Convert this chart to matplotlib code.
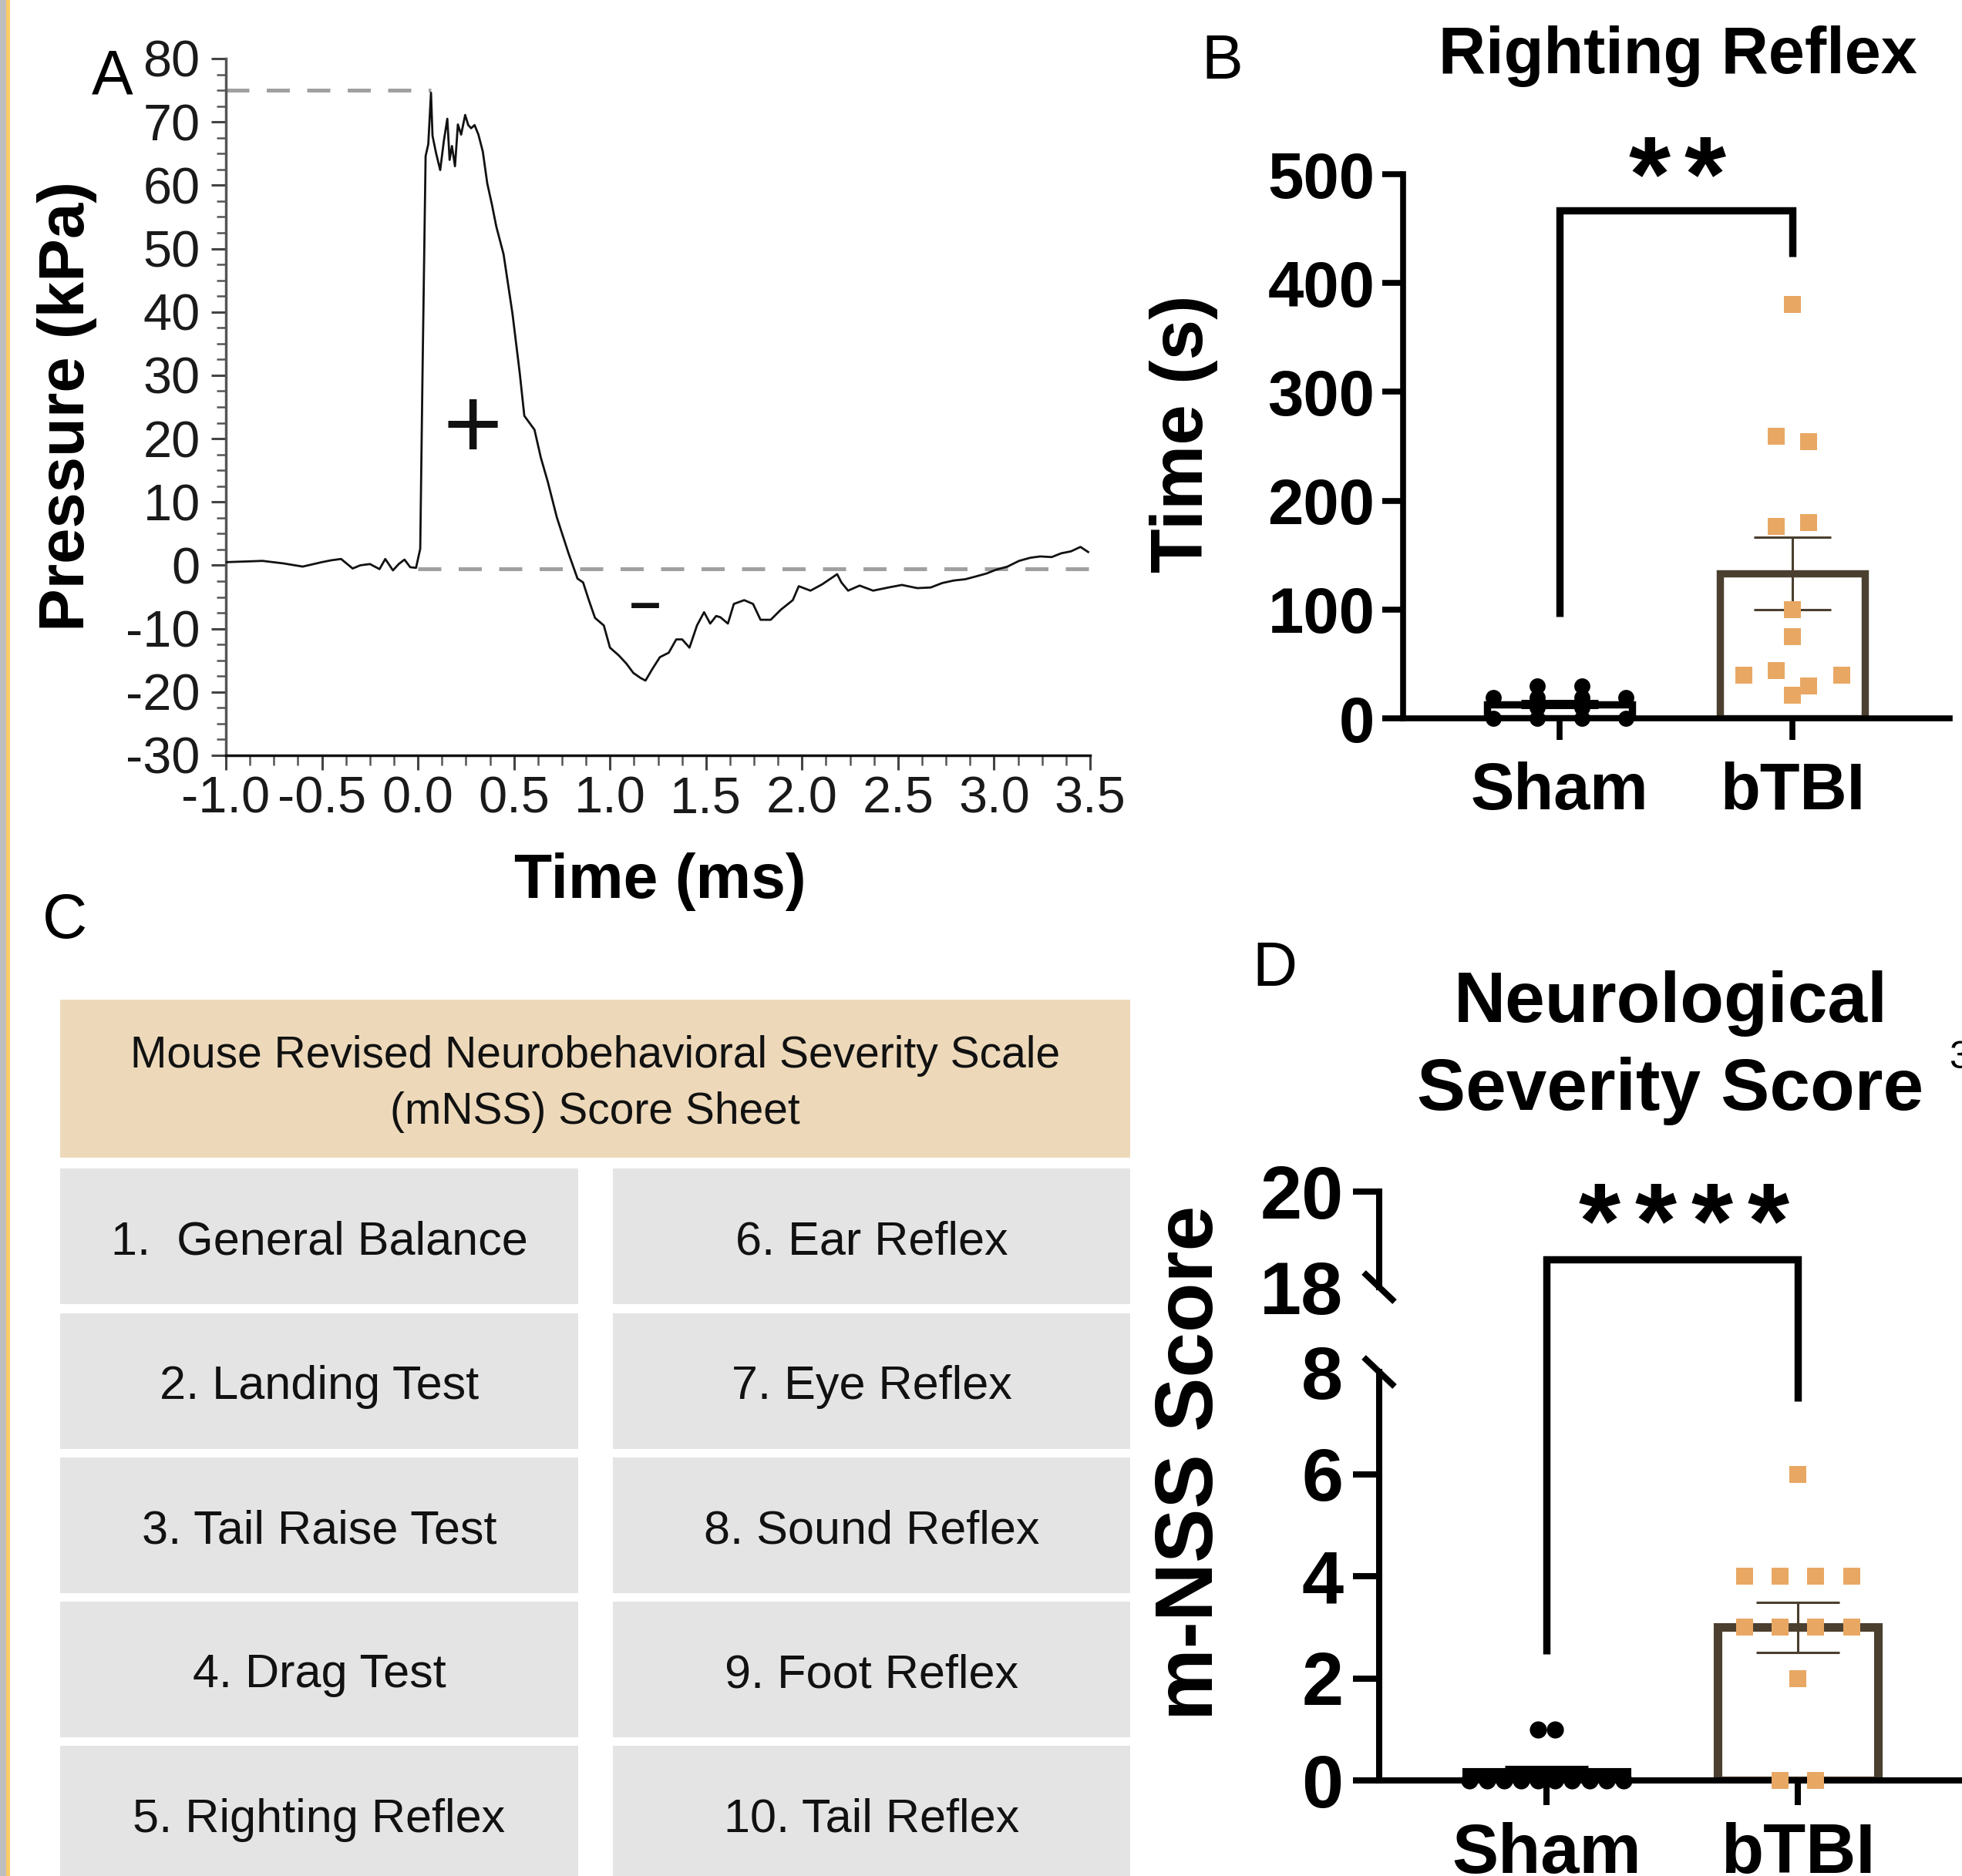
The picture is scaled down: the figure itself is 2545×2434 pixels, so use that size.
import matplotlib
matplotlib.use("Agg")
import matplotlib.pyplot as plt
import numpy as np
from matplotlib.patches import Rectangle
from matplotlib.lines import Line2D
from matplotlib.transforms import IdentityTransform
from matplotlib.ticker import AutoMinorLocator

plt.rcParams['axes.unicode_minus'] = False
plt.rcParams['font.family'] = ['Liberation Sans', 'DejaVu Sans']

# ---------------- data ----------------
time_ms = [-1.00, -0.90, -0.81, -0.70, -0.60, -0.50, -0.45, -0.40, -0.34, -0.30,
           -0.25, -0.20, -0.17, -0.13, -0.10, -0.07, -0.04, -0.01,
           0.012, 0.024, 0.040, 0.054, 0.068, 0.076, 0.095, 0.116, 0.135, 0.153,
           0.165, 0.177, 0.193, 0.208, 0.225, 0.246, 0.262, 0.277, 0.295, 0.315,
           0.338, 0.361, 0.385, 0.408, 0.446, 0.492, 0.530, 0.554, 0.607, 0.640,
           0.677, 0.723, 0.783, 0.831, 0.860, 0.890, 0.922, 0.968, 1.000, 1.045,
           1.085, 1.122, 1.160, 1.185, 1.220, 1.260, 1.306, 1.345, 1.376, 1.414,
           1.453, 1.490, 1.522, 1.553, 1.575, 1.614, 1.645, 1.699, 1.745, 1.784,
           1.837, 1.890, 1.952, 1.983, 2.044, 2.105, 2.183, 2.205, 2.240, 2.300,
           2.370, 2.450, 2.520, 2.600, 2.670, 2.730, 2.790, 2.850, 2.900, 2.960,
           3.010, 3.070, 3.130, 3.190, 3.240, 3.300, 3.350, 3.400, 3.450, 3.490]
pressure_kpa = [0.5, 0.6, 0.7, 0.3, -0.2, 0.5, 0.8, 1.0, -0.5, 0.0,
                0.2, -0.6, 1.0, -0.8, 0.2, 0.9, -0.3, -0.4,
                2.6, 30.5, 64.6, 66.5, 74.6, 67.8, 65.0, 62.4, 67.0, 70.5,
                64.0, 66.2, 63.0, 69.6, 68.0, 71.1, 69.5, 69.0, 69.5, 68.0,
                65.3, 60.3, 57.0, 53.5, 49.1, 39.8, 30.4, 23.6, 21.4, 17.0,
                13.1, 7.6, 2.0, -2.1, -2.7, -5.5, -8.3, -9.5, -13.0, -14.2,
                -15.5, -17.0, -17.8, -18.2, -16.4, -14.5, -13.8, -11.7, -11.7, -13.0,
                -9.5, -7.4, -9.2, -8.0, -8.2, -9.2, -6.1, -5.5, -6.1, -8.6,
                -8.6, -7.0, -5.5, -3.3, -4.0, -3.0, -1.4, -2.7, -4.0, -3.2,
                -4.0, -3.5, -3.1, -3.6, -3.5, -2.8, -2.4, -2.2, -1.8, -1.3,
                -0.7, -0.2, 0.7, 1.2, 1.4, 1.3, 1.9, 2.2, 2.9, 2.1]
peak_kpa = 75
peak_time_ms = 0.068
baseline_kpa = 0
time_ticks = [-1.0, -0.5, 0.0, 0.5, 1.0, 1.5, 2.0, 2.5, 3.0, 3.5]
pressure_ticks = [-30, -20, -10, 0, 10, 20, 30, 40, 50, 60, 70, 80]

groups = ['Sham', 'bTBI']
righting_sham = [30, 30, 19, 19, 19, 19, 10, 10, 0, 0, 0, 0]
righting_btbi = [380, 259, 254, 176, 180, 100, 75, 40, 44, 30, 40, 21]
righting_ticks = [0, 100, 200, 300, 400, 500]

mnss_sham = [1, 1, 0, 0, 0, 0, 0, 0, 0, 0, 0, 0]
mnss_btbi = [6, 4, 4, 4, 4, 3, 3, 3, 3, 2, 0, 0]
mnss_low_ticks = [0, 2, 4, 6, 8]
mnss_high_ticks = [18, 20]

table_title = ['Mouse Revised Neurobehavioral Severity Scale', '(mNSS) Score Sheet']
items_left = ['1.  General Balance', '2. Landing Test', '3. Tail Raise Test',
              '4. Drag Test', '5. Righting Reflex']
items_right = ['6. Ear Reflex', '7. Eye Reflex', '8. Sound Reflex',
               '9. Foot Reflex', '10. Tail Reflex']

# ---------------- helpers ----------------
W, H = 2545, 2434
fig = plt.figure(figsize=(W / 100, H / 100), dpi=100)
BROWN = '#4B3F2F'
ORANGE = '#E8A864'


def box(x0, y0, x1, y1):
    return [x0 / W, 1 - y1 / H, (x1 - x0) / W, (y1 - y0) / H]


def fx(x):
    return x / W


def fy(y):
    return 1 - y / H


def swarm(vals, tol, step):
    vals = np.asarray(vals, float)
    order = np.argsort(-vals, kind='stable')
    grps, cur = [], [order[0]]
    for i in order[1:]:
        if vals[cur[0]] - vals[i] <= tol:
            cur.append(i)
        else:
            grps.append(cur)
            cur = [i]
    grps.append(cur)
    off = np.zeros(len(vals))
    for g in grps:
        g = sorted(g)
        n = len(g)
        for k, i in enumerate(g):
            off[i] = (k - (n - 1) / 2) * step
    return off


def sem(v):
    v = np.asarray(v, float)
    return v.std(ddof=1) / np.sqrt(len(v))


def stars(n, cx, cy, size=100, adv=72):
    # separate glyphs so the spacing matches the reference
    base = cy + 0.47 * size * 100 / 72
    for k in range(n):
        x = cx + (k - (n - 1) / 2) * adv
        fig.text(fx(x), fy(base), '*', fontsize=size, fontweight='bold',
                 ha='center', va='baseline')


# left border strips
fig.add_artist(Rectangle((0, 0), 8 / W, 1, transform=fig.transFigure,
                         color='#BEBEBE', lw=0))
fig.add_artist(Rectangle((8 / W, 0), 5 / W, 1, transform=fig.transFigure,
                         color='#FFCC66', lw=0))

# ---------------- Panel A ----------------
axA = fig.add_axes(box(293, 76, 1414, 980))
axA.plot(time_ms, pressure_kpa, color='#111111', lw=2.0, zorder=3)
axA.plot([-1.0, peak_time_ms], [peak_kpa, peak_kpa], color='#A0A0A0', lw=3.6,
         dashes=(6, 4.5), zorder=2, clip_on=False)
axA.plot([0.0, 3.5], [baseline_kpa - 0.5, baseline_kpa - 0.5], color='#A0A0A0', lw=3.6,
         dashes=(6, 4.5), zorder=2, clip_on=False)
axA.set_xlim(-1.0, 3.5)
axA.set_ylim(-30, 80)
axA.spines[['top', 'right']].set_visible(False)
axA.spines['left'].set_color('#555555')
axA.spines['left'].set_linewidth(2.5)
axA.spines['bottom'].set_color('#111111')
axA.spines['bottom'].set_linewidth(2.5)
axA.set_xticks(time_ticks, labels=['%.1f' % t for t in time_ticks],
               fontsize=48, color='#1a1a1a')
axA.set_yticks(pressure_ticks, labels=[str(p) for p in pressure_ticks],
               fontsize=48, color='#1a1a1a')
axA.xaxis.set_minor_locator(AutoMinorLocator(4))
axA.yaxis.set_minor_locator(AutoMinorLocator(4))
axA.tick_params(which='major', length=14, width=2.2, color='#444444')
axA.tick_params(which='minor', length=9, width=1.8, color='#555555')
axA.tick_params(axis='x', pad=5)
axA.tick_params(axis='y', pad=10)
axA.text(0.285, 21.0, '+', fontsize=95, ha='center', va='center', color='#111111')
axA.text(1.185, -6.4, '\u2013', fontsize=52, fontweight='bold', ha='center',
         va='center', color='#111111')
fig.text(fx(87), fy(527), 'Pressure (kPa)', rotation=90, fontsize=60,
         fontweight='bold', ha='center', va='center')
fig.text(fx(856), fy(1144), 'Time (ms)', fontsize=58, fontweight='bold',
         ha='center', va='center')
fig.text(fx(146), fy(100), 'A', fontsize=58, ha='center', va='center')

# ---------------- Panel B ----------------
axB = fig.add_axes(box(1820, 226, 2529, 932))
xpos = np.arange(len(groups))
rb = [righting_sham, righting_btbi]
means_b = [np.mean(v) for v in rb]
sems_b = [sem(v) for v in rb]
axB.bar(xpos, means_b, width=0.62, color='white', edgecolor=['black', BROWN],
        linewidth=6.8, zorder=2)
for i, c in enumerate(['black', BROWN]):
    axB.errorbar([xpos[i]], [means_b[i]], yerr=[sems_b[i]], fmt='none', ecolor=c,
                 elinewidth=2.2, capsize=36, capthick=2.2, zorder=3)
offs = swarm(righting_sham, 5, 0.19)
axB.plot(xpos[0] + offs, righting_sham, 'o', color='black', ms=15, mew=0,
         clip_on=False, zorder=5)
offs = swarm(righting_btbi, 16, 0.14)
axB.plot(xpos[1] + offs, righting_btbi, 's', color=ORANGE, ms=16, mew=0,
         clip_on=False, zorder=5)
axB.set_xlim(-0.672, 1.675)
axB.set_ylim(0, 500)
axB.spines[['top', 'right']].set_visible(False)
for s in ['left', 'bottom']:
    axB.spines[s].set_linewidth(5.5)
axB.set_yticks(righting_ticks, labels=[str(v) for v in righting_ticks],
               fontsize=60, fontweight='bold')
axB.set_xticks(xpos, labels=groups, fontsize=61, fontweight='bold')
axB.tick_params(axis='y', length=19.5, width=5.5, pad=7)
axB.tick_params(axis='x', length=20, width=5.5, pad=20)
axB.plot([0, 0, 1, 1], [93.5, 467, 467, 424], color='black', lw=6.8,
         solid_joinstyle='miter', solid_capstyle='butt', clip_on=False, zorder=4)
stars(2, 2176, 208)
fig.text(fx(2176), fy(95), 'Righting Reflex', fontsize=61, fontweight='bold',
         ha='center', va='baseline')
fig.text(fx(1536), fy(563), 'Time (s)', rotation=90, fontsize=68,
         fontweight='bold', ha='center', va='center')
fig.text(fx(1585), fy(81), 'B', fontsize=58, ha='center', va='center')

# ---------------- Panel C ----------------
fig.add_artist(Rectangle((fx(78), fy(1502)), (1466 - 78) / W, (1502 - 1297) / H,
                         transform=fig.transFigure, color='#EDD9BA', lw=0))
fig.text(fx(772), fy(1370), table_title[0], fontsize=41,
         ha='center', va='center', color='#111111')
fig.text(fx(772), fy(1443), table_title[1], fontsize=41,
         ha='center', va='center', color='#111111')
row_tops = [1516, 1704, 1891, 2078, 2265]
row_h = 176
cols = [(78, 750), (795, 1466)]
for r, top in enumerate(row_tops):
    for c, (x0, x1) in enumerate(cols):
        fig.add_artist(Rectangle((fx(x0), fy(top + row_h)), (x1 - x0) / W, row_h / H,
                                 transform=fig.transFigure, color='#E4E4E4', lw=0))
        label = (items_left if c == 0 else items_right)[r]
        fig.text(fx((x0 + x1) / 2), fy(top + row_h / 2 + 8), label,
                 fontsize=44, ha='center', va='center', color='#111111')
fig.text(fx(84), fy(1196), 'C', fontsize=58, ha='center', va='center')

# ---------------- Panel D ----------------
axDb = fig.add_axes(box(1789, 1780, 2545, 2310))
axDt = fig.add_axes(box(1789, 1546, 2545, 1670))
for ax in (axDb, axDt):
    ax.patch.set_visible(False)
    ax.set_xlim(-0.666, 1.653)
rd = [mnss_sham, mnss_btbi]
means_d = [np.mean(v) for v in rd]
sems_d = [sem(v) for v in rd]
axDb.bar(xpos, means_d, width=0.64, color='white', edgecolor=['black', BROWN],
         linewidth=8, zorder=2)
for i, c in enumerate(['black', BROWN]):
    axDb.errorbar([xpos[i]], [means_d[i]], yerr=[sems_d[i]], fmt='none', ecolor=c,
                  elinewidth=2.2, capsize=39, capthick=2.2, zorder=3)
offs = swarm(mnss_sham, 0.3, 0.068)
axDb.plot(xpos[0] + offs, mnss_sham, 'o', color='black', ms=16, mew=0,
          clip_on=False, zorder=5)
offs = swarm(mnss_btbi, 0.3, 0.142)
axDb.plot(xpos[1] + offs, mnss_btbi, 's', color=ORANGE, ms=16.5, mew=0,
          clip_on=False, zorder=5)
axDb.set_ylim(0, 8)
axDt.set_ylim(18, 20)
axDb.spines[['top', 'right']].set_visible(False)
axDt.spines[['top', 'right', 'bottom']].set_visible(False)
for ax in (axDb, axDt):
    ax.spines['left'].set_linewidth(5.8)
axDb.spines['bottom'].set_linewidth(5.8)
axDb.set_yticks(mnss_low_ticks, labels=[str(v) for v in mnss_low_ticks],
                fontsize=70, fontweight='bold')
axDt.set_yticks(mnss_high_ticks, labels=[str(v) for v in mnss_high_ticks],
                fontsize=70, fontweight='bold')
axDb.yaxis.get_major_ticks()[-1].tick1line.set_visible(False)
axDt.yaxis.get_major_ticks()[0].tick1line.set_visible(False)
axDb.set_xticks(xpos, labels=groups, fontsize=65, fontweight='bold')
axDt.set_xticks([])
for ax in (axDb, axDt):
    ax.tick_params(axis='y', length=24.5, width=5.8, pad=9)
axDb.tick_params(axis='x', length=23, width=5.8, pad=16)

# break marks
for ax, yv in ((axDt, 18), (axDb, 8)):
    px, py = ax.transData.transform((ax.get_xlim()[0], yv))
    fig.add_artist(Line2D([px - 20, px + 20], [py + 19, py - 19], color='black',
                          lw=5.8, transform=IdentityTransform(),
                          solid_capstyle='butt'))

# significance bracket across the break
p1 = axDb.transData.transform((0, 2.47))
p2 = axDt.transData.transform((0, 18.58))
p3 = axDt.transData.transform((1, 18.58))
p4 = axDb.transData.transform((1, 7.42))
pts = np.array([p1, p2, p3, p4])
fig.add_artist(Line2D(pts[:, 0], pts[:, 1], color='black', lw=6.8,
                      solid_joinstyle='miter', solid_capstyle='butt',
                      transform=IdentityTransform()))
stars(4, 2184, 1566, adv=73)
fig.text(fx(2167), fy(1326), 'Neurological', fontsize=67, fontweight='bold',
         ha='center', va='baseline')
fig.text(fx(2167), fy(1440), 'Severity Score', fontsize=68, fontweight='bold',
         ha='center', va='baseline')
fig.text(fx(2528), fy(1373), '3', fontsize=36, ha='left', va='center')
fig.text(fx(1546), fy(1898), 'm-NSS Score', rotation=90, fontsize=76,
         fontweight='bold', ha='center', va='center')
fig.text(fx(1653), fy(1258), 'D', fontsize=58, ha='center', va='center')

fig.savefig('out.png', dpi=100)
